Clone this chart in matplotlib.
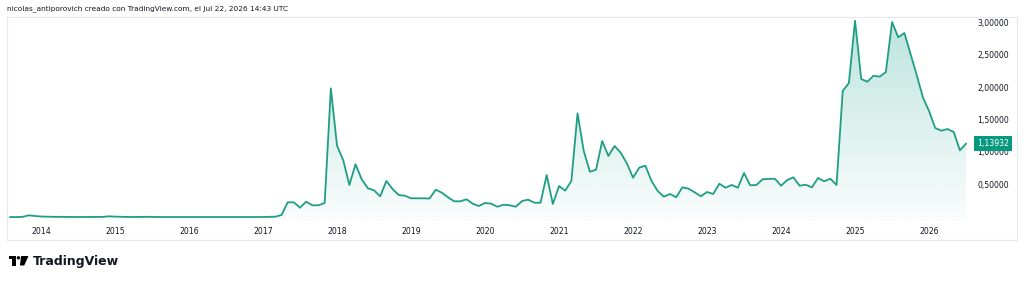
import numpy as np
import pandas as pd
import matplotlib
matplotlib.use("Agg")
import matplotlib.pyplot as plt
import matplotlib.patches as patches
from matplotlib.transforms import blended_transform_factory

# monthly closes, Aug 2013 .. Jul 2026
start_month = "2013-08"
values = [
    0.005, 0.005, 0.008, 0.032, 0.022,
    0.014, 0.011, 0.009, 0.008, 0.007, 0.006, 0.006, 0.006, 0.006, 0.007, 0.008, 0.017,
    0.012, 0.009, 0.007, 0.006, 0.008, 0.009, 0.007, 0.006, 0.006, 0.006, 0.006, 0.006,
    0.006, 0.006, 0.007, 0.006, 0.006, 0.006, 0.006, 0.007, 0.007, 0.006, 0.006, 0.006,
    0.006, 0.008, 0.011, 0.037, 0.233, 0.233, 0.150, 0.243, 0.187, 0.187, 0.223, 1.995,
    1.108, 0.887, 0.501, 0.821, 0.589, 0.450, 0.419, 0.326, 0.563, 0.439, 0.346, 0.335,
    0.295, 0.295, 0.295, 0.292, 0.428, 0.382, 0.311, 0.249, 0.249, 0.280, 0.212, 0.176,
    0.223, 0.212, 0.165, 0.196, 0.187, 0.165, 0.253, 0.274, 0.227, 0.227, 0.655, 0.207,
    0.485, 0.413, 0.563, 1.609, 1.031, 0.706, 0.737, 1.181, 0.949, 1.104, 1.000, 0.836,
    0.614, 0.768, 0.799, 0.563, 0.408, 0.320, 0.362, 0.311, 0.465, 0.444, 0.388, 0.326,
    0.393, 0.362, 0.521, 0.459, 0.501, 0.459, 0.686, 0.496, 0.501, 0.589, 0.594, 0.598,
    0.490, 0.578, 0.620, 0.490, 0.505, 0.465, 0.609, 0.558, 0.598, 0.501, 1.954, 2.077,
    3.040, 2.139, 2.097, 2.190, 2.175, 2.247, 3.020, 2.784, 2.850, 2.526, 2.201, 1.856,
    1.644, 1.382, 1.340, 1.366, 1.320, 1.037, 1.13932,
]
price_ticks = [0.5, 1.0, 1.5, 2.0, 2.5, 3.0]
header = "nicolas_antiporovich creado con TradingView.com, el Jul 22, 2026 14:43 UTC"

LINE = "#1f9e86"
LABEL_BG = "#089981"
TEXT = "#131722"
BORDER = "#e6e8ee"

W, H = 1024, 282
dates = pd.date_range(start_month, periods=len(values), freq="MS")
x = np.array([(d.year - 2014) * 12 + d.month - 1 for d in dates], dtype=float)
y = np.array(values)

fig = plt.figure(figsize=(W / 100, H / 100), dpi=100)
fig.patch.set_facecolor("white")

# pane box in pixels: left 7, right 1017, top 17, bottom 240
left, right, top, bottom = 7, 1017, 17, 240
ax = fig.add_axes([left / W, 1 - bottom / H, (right - left) / W, (bottom - top) / H])
x0, px_per_month = 41.0, 6.167
y0, px_per_unit = 217.4, 64.7
ax.set_xlim((left - x0) / px_per_month, (right - x0) / px_per_month)
ax.set_ylim((y0 - bottom) / px_per_unit, (y0 - top) / px_per_unit)
ax.set_xticks([])
ax.set_yticks([])
for s in ax.spines.values():
    s.set_color(BORDER)
    s.set_linewidth(0.8)

# gradient area under the line
base = -0.06
poly = ax.fill_between(x, y, base, facecolor="none", edgecolor="none")
grad = np.zeros((256, 1, 4))
grad[..., 0] = 8 / 255
grad[..., 1] = 153 / 255
grad[..., 2] = 129 / 255
grad[:, 0, 3] = np.linspace(0.27, 0.02, 256)
img = ax.imshow(grad, aspect="auto", extent=[x[0], x[-1], base, y.max()],
                origin="upper", zorder=1, interpolation="bilinear")
img.set_clip_path(poly.get_paths()[0], transform=ax.transData)

ax.plot(x, y, color=LINE, lw=1.3, zorder=2, solid_joinstyle="round")

# time axis labels
tx = blended_transform_factory(ax.transData, ax.transAxes)
for d, xi in zip(dates, x):
    if d.month == 1:
        ax.text(xi, (bottom - 231) / (bottom - top), str(d.year), transform=tx,
                ha="center", va="center", fontsize=5.6, color=TEXT)

# price scale
ty = blended_transform_factory(ax.transAxes, ax.transData)
lx = (1009 - left) / (right - left)
for v in price_ticks:
    ax.text(lx, v, f"{v:.5f}".replace(".", ","), transform=ty, ha="right",
            va="center", fontsize=5.6, color=TEXT, zorder=3)
ax.text(lx, y[-1], f"{y[-1]:.5f}".replace(".", ","), transform=ty, ha="right",
        va="center", fontsize=5.6, color="white", zorder=5,
        bbox=dict(boxstyle="square,pad=0.35", facecolor=LABEL_BG, edgecolor="none"))

fig.text(7 / W, 1 - 9 / H, header, fontsize=5.3, color=TEXT, va="center", ha="left")


def fp(px, py):
    return (px / W, 1 - py / H)


# TradingView logo
logo_t = [fp(8.5, 256), fp(15.5, 256), fp(15.5, 265.5), fp(12, 265.5), fp(12, 259.3), fp(8.5, 259.3)]
fig.patches.append(patches.Polygon(logo_t, closed=True, transform=fig.transFigure,
                                   facecolor="black", edgecolor="none"))
fig.patches.append(patches.Ellipse(fp(18.4, 257.8), 3.4 / W, 3.4 / H, transform=fig.transFigure,
                                   facecolor="black", edgecolor="none"))
logo_7 = [fp(21, 256), fp(28.5, 256), fp(24.2, 265.5), fp(20, 265.5)]
fig.patches.append(patches.Polygon(logo_7, closed=True, transform=fig.transFigure,
                                   facecolor="black", edgecolor="none"))
fig.text(33 / W, 1 - 261.5 / H, "TradingView", fontsize=9, weight="bold",
         color="#131722", va="center", ha="left")

fig.savefig("out.png", dpi=100)
